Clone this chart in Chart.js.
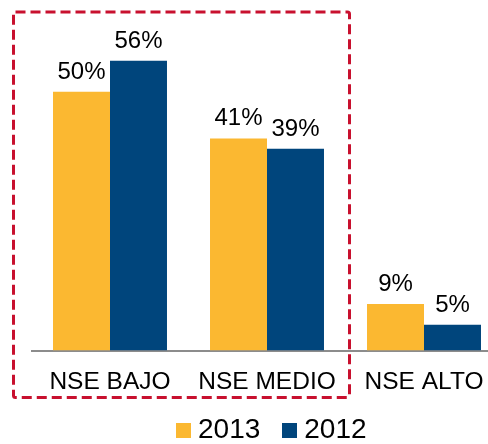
<!DOCTYPE html>
<html>
<head>
<meta charset="utf-8">
<script src="https://cdn.jsdelivr.net/npm/chart.js@4/dist/chart.umd.min.js"></script>
<style>
    html, body { margin: 0; padding: 0; background: #fff; }
    #wrap { position: relative; width: 488px; height: 444px; overflow: hidden; }
    #chart { position: absolute; left: 0; top: 0; }
    #legend {
        position: absolute; left: 176px; top: 413px;
        display: flex; align-items: center;
        font-family: 'Liberation Sans', Arial, sans-serif; font-size: 28px; color: #000;
    }
    .item { display: flex; align-items: center; margin-right: 22px; }
    .box { width: 15px; height: 15px; margin-right: 7px; margin-top: 3px; }
</style>
</head>
<body>
<div id="wrap">
    <canvas id="chart" width="504" height="425"></canvas>
    <div id="legend"></div>
</div>
<script>
const categories = ['NSE BAJO', 'NSE MEDIO', 'NSE ALTO'];
const seriesNames = ['2013', '2012'];
const values2013 = [50, 41, 9];
const values2012 = [56, 39, 5];
const seriesColors = ['#FBB831', '#00457C'];

const font = "'Liberation Sans', Arial, sans-serif";

// etiquetas de valor encima de las barras
const valueLabels = {
    id: 'valueLabels',
    afterDatasetsDraw(chart) {
        const ctx = chart.ctx;
        ctx.save();
        ctx.font = '24px ' + font;
        ctx.fillStyle = '#000';
        ctx.textAlign = 'center';
        ctx.textBaseline = 'alphabetic';
        chart.data.datasets.forEach((ds, i) => {
            chart.getDatasetMeta(i).data.forEach((bar, j) => {
                ctx.fillText(ds.data[j] + '%', bar.x, bar.y - 13);
            });
        });
        ctx.restore();
    }
};

// recuadro rojo punteado alrededor de BAJO y MEDIO
const dashedBox = {
    id: 'dashedBox',
    afterDraw(chart) {
        const x = chart.scales.x;
        const ctx = chart.ctx;
        const left = x.left - 18;
        const right = (x.getPixelForValue(1) + x.getPixelForValue(2)) / 2 + 4;
        const top = 12;
        const bottom = chart.chartArea.bottom + 47;
        ctx.save();
        ctx.strokeStyle = '#C8102E';
        ctx.lineWidth = 3;
        ctx.setLineDash([10, 5]);
        ctx.beginPath();
        ctx.roundRect(left, top, right - left, bottom - top, 2);
        ctx.stroke();
        ctx.restore();
    }
};

new Chart(document.getElementById('chart').getContext('2d'), {
    type: 'bar',
    data: {
        labels: categories,
        datasets: [
            { label: seriesNames[0], data: values2013, backgroundColor: seriesColors[0] },
            { label: seriesNames[1], data: values2012, backgroundColor: seriesColors[1] }
        ]
    },
    options: {
        responsive: false,
        animation: false,
        devicePixelRatio: 1,
        categoryPercentage: 0.726,
        barPercentage: 1,
        layout: { padding: { left: 31.5, right: 1.5, top: 9, bottom: 11 } },
        plugins: { legend: { display: false }, tooltip: { enabled: false } },
        scales: {
            x: {
                grid: { display: false, drawTicks: false },
                border: { display: true, color: '#8C8C8C', width: 2 },
                ticks: { color: '#000', padding: 17, font: { family: font, size: 24.5 } }
            },
            y: { display: false, min: 0, max: 66 }
        }
    },
    plugins: [valueLabels, dashedBox]
});

// leyenda
const legend = document.getElementById('legend');
seriesNames.forEach((name, i) => {
    const item = document.createElement('div');
    item.className = 'item';
    item.innerHTML = '<span class="box" style="background:' + seriesColors[i] + '"></span>' + name;
    legend.appendChild(item);
});
</script>
</body>
</html>
